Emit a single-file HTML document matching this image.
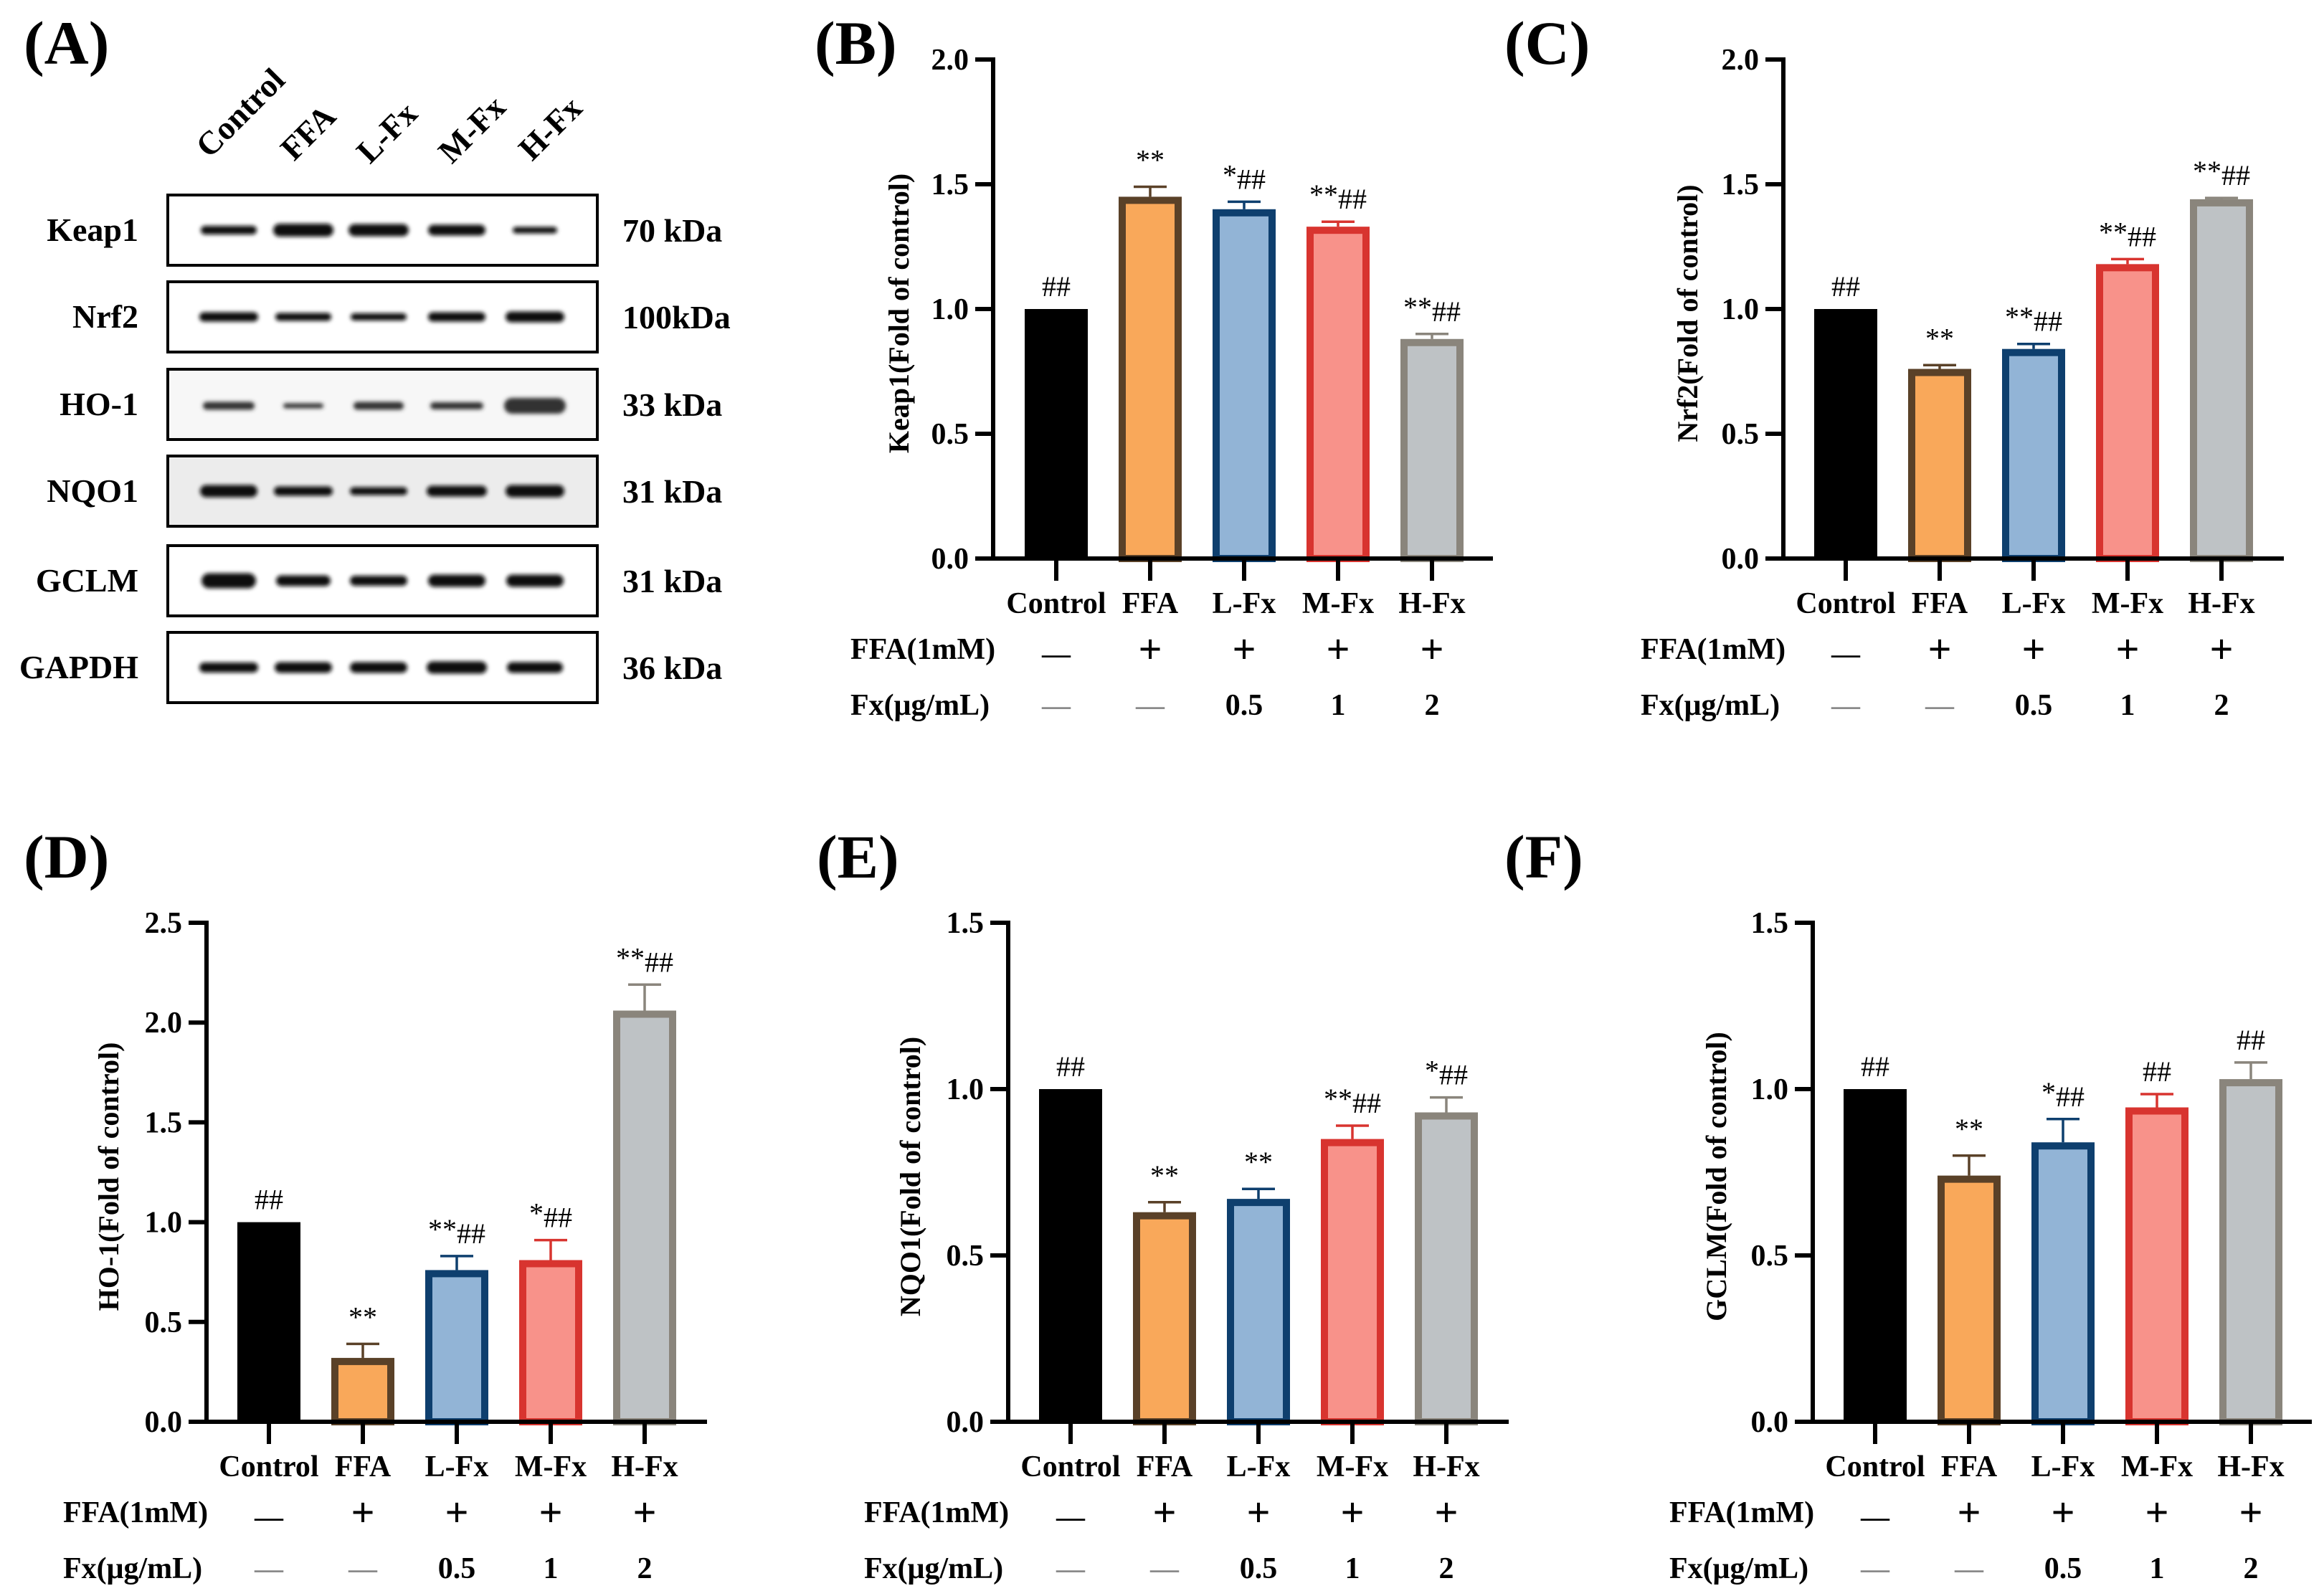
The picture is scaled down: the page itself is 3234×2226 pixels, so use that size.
<!DOCTYPE html>
<html><head><meta charset="utf-8">
<style>
html,body{margin:0;padding:0;background:#fff;}
svg{display:block;}
text{font-family:"Liberation Serif","Times New Roman",serif;}
</style></head>
<body>
<svg id="fig" xmlns="http://www.w3.org/2000/svg" width="3234" height="2226" viewBox="0 0 3234 2226">
<defs>
<filter id="blur" x="-20%" y="-100%" width="140%" height="300%"><feGaussianBlur stdDeviation="3"/></filter>
</defs>
</svg>
<script>
const categories = ["Control","FFA","L-Fx","M-Fx","H-Fx"];
const ffaRow = ["\u2014","+","+","+","+"];
const fxRow = ["\u2014","\u2014","0.5","1","2"];

const keap1Values = [1.0, 1.45, 1.40, 1.33, 0.88];
const keap1Errors = [0, 0.04, 0.03, 0.02, 0.02];
const keap1Marks = ["##","**","*##","**##","**##"];

const nrf2Values = [1.0, 0.76, 0.84, 1.18, 1.44];
const nrf2Errors = [0, 0.015, 0.02, 0.02, 0.005];
const nrf2Marks = ["##","**","**##","**##","**##"];

const ho1Values = [1.0, 0.32, 0.76, 0.81, 2.06];
const ho1Errors = [0, 0.07, 0.07, 0.10, 0.13];
const ho1Marks = ["##","**","**##","*##","**##"];

const nqo1Values = [1.0, 0.63, 0.67, 0.85, 0.93];
const nqo1Errors = [0, 0.03, 0.03, 0.04, 0.045];
const nqo1Marks = ["##","**","**","**##","*##"];

const gclmValues = [1.0, 0.74, 0.84, 0.945, 1.03];
const gclmErrors = [0, 0.06, 0.07, 0.04, 0.05];
const gclmMarks = ["##","**","*##","##","##"];

const ticks20 = ["0.0","0.5","1.0","1.5","2.0"];
const ticks25 = ["0.0","0.5","1.0","1.5","2.0","2.5"];
const ticks15 = ["0.0","0.5","1.0","1.5"];

const blotProteins = ["Keap1","Nrf2","HO-1","NQO1","GCLM","GAPDH"];
const blotKda = ["70 kDa","100kDa","33 kDa","31 kDa","31 kDa","36 kDa"];

const fills = ["#000000","#F9A85A","#92B4D6","#F8928A","#BEC2C5"];
const strokes = ["#000000","#5A4128","#0E3F6E","#D8342F","#8A857C"];

const NS = "http://www.w3.org/2000/svg";
const svg = document.getElementById("fig");
function mk(tag, attrs, parent){
  const e = document.createElementNS(NS, tag);
  for (const k in attrs) e.setAttribute(k, attrs[k]);
  (parent||svg).appendChild(e);
  return e;
}
function txt(s, attrs, parent){ const t = mk("text", attrs, parent); t.textContent = s; return t; }

function drawChart(cfg, values, errors, marks, ticks){
  const g = mk("g", {});
  
  
  const yMax = parseFloat(ticks[ticks.length-1]);
  const yS = v => cfg.y0 - (v / yMax) * (cfg.y0 - cfg.top);
  const xS = i => cfg.c0 + i * cfg.step;
  const L = txt(cfg.letter, {x:cfg.lx, y:cfg.ly, "font-size":86, "font-weight":"bold"}, g);
  
  
  values.forEach((v,i)=>{
    const cx = xS(i), w = 88, sw = i===0?0:10;
    const yt = yS(v);
    if (errors[i] > 0){
      const ye = yS(v + errors[i]);
      const eb = mk("g", {stroke:strokes[i], "stroke-width":3.5}, g);
      
      
      mk("line", {x1:cx, x2:cx, y1:yt, y2:ye}, eb);
      mk("line", {x1:cx-23, x2:cx+23, y1:ye, y2:ye}, eb);
    }
    const r = mk("rect", {x:cx - w/2 + sw/2, y:yt + sw/2, width:w - sw, height:Math.max(0, cfg.y0 - yt - sw/2),
      fill:fills[i], stroke:strokes[i], "stroke-width":sw}, g);
    
    
    const at = yS(v + errors[i]) - 18;
    const m = marks[i];
    const stars = m.replace(/#/g,""), hashes = m.replace(/\*/g,"");
    const t = mk("text", {x:cx, y:at, "text-anchor":"middle", "font-size":40}, g);
    
    
    if (stars){ const s = mk("tspan", {"font-size":40, dy:-6}, t); s.textContent = stars; }
    if (hashes){ const h = mk("tspan", {dy: stars? 6:0}, t); h.textContent = hashes; }
  });
  const ax = mk("g", {stroke:"#000", "stroke-width":6, fill:"none"}, g);
  
  
  mk("line", {x1:cfg.ax, x2:cfg.ax, y1:cfg.top-3, y2:cfg.y0+3}, ax);
  mk("line", {x1:cfg.ax-25, x2:cfg.xEnd, y1:cfg.y0, y2:cfg.y0}, ax);
  ticks.forEach(tk=>{
    const y = yS(parseFloat(tk));
    mk("line", {x1:cfg.ax-25, x2:cfg.ax, y1:y, y2:y}, ax);
    const tl = txt(tk, {x:cfg.ax-34, y:y+14, "text-anchor":"end", "font-size":42, "font-weight":"bold"}, g);
    
    
  });
  categories.forEach((c,i)=>{
    const cx = xS(i);
    mk("line", {x1:cx, x2:cx, y1:cfg.y0, y2:cfg.y0+31}, ax);
    const cl = txt(c, {x:cx, y:cfg.y0+76, "text-anchor":"middle", "font-size":42, "font-weight":"bold"}, g);
    
    
    const f1 = txt(ffaRow[i], {x:cx, y:cfg.y0+146, "text-anchor":"middle", "font-size":i===0?40:58, "font-weight":"bold"}, g);
    
    
    const f2 = txt(fxRow[i], {x:cx, y:cfg.y0+218, "text-anchor":"middle", "font-size":i<2?40:42, "font-weight":"bold", fill:i<2?"#8a8a8a":"#000"}, g);
    
    
  });
  const r1 = txt("FFA(1mM)", {x:cfg.rx, y:cfg.y0+140, "font-size":42, "font-weight":"bold"}, g);
  
  
  const r2 = txt("Fx(\u03bcg/mL)", {x:cfg.rx, y:cfg.y0+218, "font-size":42, "font-weight":"bold"}, g);
  
  
  const cy = (cfg.top + cfg.y0)/2 + 6;
  const yl = txt(cfg.ylabel, {x:cfg.ylx, y:cy, "text-anchor":"middle", "font-size":40, "font-weight":"bold",
    transform:`rotate(-90 ${cfg.ylx} ${cy})`, dy:14}, g);
  
  
}

drawChart({name:"keap1-chart", letter:"(B)", lx:1136, ly:89, ax:1385, y0:779, top:83, xEnd:2082, c0:1473, step:131, rx:1186, ylx:1253, ylabel:"Keap1(Fold of control)"}, keap1Values, keap1Errors, keap1Marks, ticks20);
drawChart({name:"nrf2-chart", letter:"(C)", lx:2098, ly:89, ax:2487, y0:779, top:83, xEnd:3185, c0:2574, step:131, rx:2288, ylx:2353, ylabel:"Nrf2(Fold of control)"}, nrf2Values, nrf2Errors, nrf2Marks, ticks20);
drawChart({name:"ho1-chart", letter:"(D)", lx:33, ly:1224, ax:288, y0:1983, top:1287, xEnd:986, c0:375, step:131, rx:88, ylx:151, ylabel:"HO-1(Fold of control)"}, ho1Values, ho1Errors, ho1Marks, ticks25);
drawChart({name:"nqo1-chart", letter:"(E)", lx:1139, ly:1224, ax:1406, y0:1983, top:1287, xEnd:2104, c0:1493, step:131, rx:1205, ylx:1269, ylabel:"NQO1(Fold of control)"}, nqo1Values, nqo1Errors, nqo1Marks, ticks15);
drawChart({name:"gclm-chart", letter:"(F)", lx:2098, ly:1224, ax:2528, y0:1983, top:1287, xEnd:3224, c0:2615, step:131, rx:2328, ylx:2393, ylabel:"GCLM(Fold of control)"}, gclmValues, gclmErrors, gclmMarks, ticks15);

(function(){
  const g = mk("g", {});
  
  
  const L = txt("(A)", {x:33, y:89, "font-size":86, "font-weight":"bold"}, g);
  
  
  const lanes = [319, 423, 528, 637, 746];
  const laneStarts = [[292,222],[410,226],[516,230],[630,230],[742,226]];
  categories.forEach((c,i)=>{
    const [x,y] = laneStarts[i];
    const t = txt(c, {x:x, y:y, "font-size":46, "font-weight":"bold", transform:`rotate(-45 ${x} ${y})`}, g);
    
    
  });
  const rowTops = [272, 393, 515, 636, 761, 882];
  const bandH = [[12,18,17,15,9],[13,11,10,13,15],[11,7,11,10,22],[17,13,11,15,17],[21,15,14,17,17],[14,15,15,17,15]];
  const bandW = [[78,84,84,80,62],[82,78,78,80,82],[72,56,70,74,86],[80,82,80,84,82],[76,76,80,80,80],[82,80,80,84,78]];
  const bg = ["#fff","#fff","#f7f7f7","#ececec","#fff","#fff"];
  const bandGrey = ["#111","#111","#333","#111","#111","#111"];
  blotProteins.forEach((p,r)=>{
    const top = rowTops[r], h = 98, cy = top + h/2;
    const box = mk("rect", {x:234, y:top, width:599, height:h, fill:bg[r], stroke:"#000", "stroke-width":4}, g);
    
    
    lanes.forEach((lx,i)=>{
      const b = mk("rect", {x:lx-bandW[r][i]/2, y:cy-bandH[r][i]/2 + (r===2?2:0), width:bandW[r][i], height:bandH[r][i], rx:bandH[r][i]/2, fill:bandGrey[r], filter:"url(#blur)"}, g);
      
      
    });
    const pl = txt(p, {x:193, y:cy+15, "text-anchor":"end", "font-size":46, "font-weight":"bold"}, g);
    
    
    const kl = txt(blotKda[r], {x:868, y:cy+16, "font-size":46, "font-weight":"bold"}, g);
    
    
  });
})();
</script>
</body></html>
